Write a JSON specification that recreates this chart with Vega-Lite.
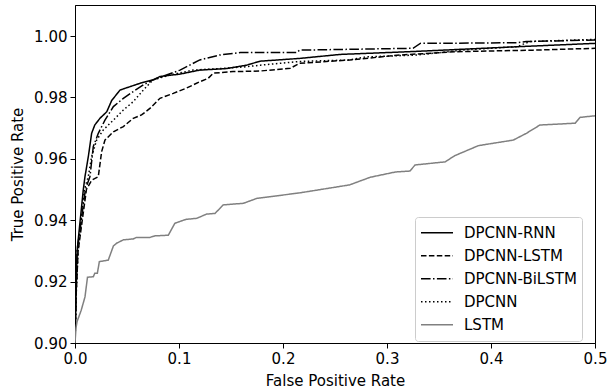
{
  "$schema": "https://vega.github.io/schema/vega-lite/v6.json",
  "width": 520,
  "height": 338,
  "autosize": {"type": "none"},
  "padding": {"left": 75, "top": 5, "right": 13, "bottom": 49},
  "background": "white",
  "config": {
    "font": "DejaVu Sans",
    "view": {"stroke": "#000000", "strokeWidth": 1},
    "legend": {
      "title": null,
      "orient": "none",
      "legendX": 340,
      "legendY": 212,
      "symbolType": "stroke",
      "symbolSize": 1024,
      "symbolStrokeWidth": 1.5,
      "labelFontSize": 15,
      "labelColor": "#000000",
      "labelOffset": 10,
      "rowPadding": 1,
      "clipHeight": 21.5,
      "padding": 5,
      "strokeColor": "#cccccc",
      "fillColor": "#ffffff",
      "cornerRadius": 3
    }
  },
  "datasets": {
    "roc": [
      {"model": "DPCNN-RNN", "fpr": 0, "tpr": 0.90},
      {"model": "DPCNN-RNN", "fpr": 0.001, "tpr": 0.915},
      {"model": "DPCNN-RNN", "fpr": 0.002, "tpr": 0.93},
      {"model": "DPCNN-RNN", "fpr": 0.005, "tpr": 0.94},
      {"model": "DPCNN-RNN", "fpr": 0.008, "tpr": 0.95},
      {"model": "DPCNN-RNN", "fpr": 0.0096, "tpr": 0.9542},
      {"model": "DPCNN-RNN", "fpr": 0.0128, "tpr": 0.9607},
      {"model": "DPCNN-RNN", "fpr": 0.016, "tpr": 0.9683},
      {"model": "DPCNN-RNN", "fpr": 0.019, "tpr": 0.971},
      {"model": "DPCNN-RNN", "fpr": 0.024, "tpr": 0.9732},
      {"model": "DPCNN-RNN", "fpr": 0.0305, "tpr": 0.9753},
      {"model": "DPCNN-RNN", "fpr": 0.0353, "tpr": 0.979},
      {"model": "DPCNN-RNN", "fpr": 0.0433, "tpr": 0.9824},
      {"model": "DPCNN-RNN", "fpr": 0.0529, "tpr": 0.9835},
      {"model": "DPCNN-RNN", "fpr": 0.0625, "tpr": 0.9846},
      {"model": "DPCNN-RNN", "fpr": 0.075, "tpr": 0.9857},
      {"model": "DPCNN-RNN", "fpr": 0.0817, "tpr": 0.9868},
      {"model": "DPCNN-RNN", "fpr": 0.101, "tpr": 0.9876},
      {"model": "DPCNN-RNN", "fpr": 0.12, "tpr": 0.9889},
      {"model": "DPCNN-RNN", "fpr": 0.146, "tpr": 0.9894},
      {"model": "DPCNN-RNN", "fpr": 0.165, "tpr": 0.9905},
      {"model": "DPCNN-RNN", "fpr": 0.178, "tpr": 0.9918},
      {"model": "DPCNN-RNN", "fpr": 0.216, "tpr": 0.9927},
      {"model": "DPCNN-RNN", "fpr": 0.255, "tpr": 0.994},
      {"model": "DPCNN-RNN", "fpr": 0.322, "tpr": 0.9949},
      {"model": "DPCNN-RNN", "fpr": 0.367, "tpr": 0.9956},
      {"model": "DPCNN-RNN", "fpr": 0.4247, "tpr": 0.9965},
      {"model": "DPCNN-RNN", "fpr": 0.5, "tpr": 0.9976},

      {"model": "DPCNN-LSTM", "fpr": 0, "tpr": 0.90},
      {"model": "DPCNN-LSTM", "fpr": 0.001, "tpr": 0.915},
      {"model": "DPCNN-LSTM", "fpr": 0.003, "tpr": 0.93},
      {"model": "DPCNN-LSTM", "fpr": 0.007, "tpr": 0.94},
      {"model": "DPCNN-LSTM", "fpr": 0.011, "tpr": 0.95},
      {"model": "DPCNN-LSTM", "fpr": 0.016, "tpr": 0.953},
      {"model": "DPCNN-LSTM", "fpr": 0.0224, "tpr": 0.9542},
      {"model": "DPCNN-LSTM", "fpr": 0.0256, "tpr": 0.9623},
      {"model": "DPCNN-LSTM", "fpr": 0.0288, "tpr": 0.9661},
      {"model": "DPCNN-LSTM", "fpr": 0.0369, "tpr": 0.9688},
      {"model": "DPCNN-LSTM", "fpr": 0.0465, "tpr": 0.9705},
      {"model": "DPCNN-LSTM", "fpr": 0.056, "tpr": 0.9732},
      {"model": "DPCNN-LSTM", "fpr": 0.064, "tpr": 0.9743},
      {"model": "DPCNN-LSTM", "fpr": 0.072, "tpr": 0.9764},
      {"model": "DPCNN-LSTM", "fpr": 0.0817, "tpr": 0.9797},
      {"model": "DPCNN-LSTM", "fpr": 0.0945, "tpr": 0.9813},
      {"model": "DPCNN-LSTM", "fpr": 0.107, "tpr": 0.983},
      {"model": "DPCNN-LSTM", "fpr": 0.12, "tpr": 0.9851},
      {"model": "DPCNN-LSTM", "fpr": 0.128, "tpr": 0.9862},
      {"model": "DPCNN-LSTM", "fpr": 0.133, "tpr": 0.9879},
      {"model": "DPCNN-LSTM", "fpr": 0.152, "tpr": 0.9884},
      {"model": "DPCNN-LSTM", "fpr": 0.178, "tpr": 0.9886},
      {"model": "DPCNN-LSTM", "fpr": 0.207, "tpr": 0.9895},
      {"model": "DPCNN-LSTM", "fpr": 0.216, "tpr": 0.9911},
      {"model": "DPCNN-LSTM", "fpr": 0.264, "tpr": 0.9922},
      {"model": "DPCNN-LSTM", "fpr": 0.3125, "tpr": 0.9938},
      {"model": "DPCNN-LSTM", "fpr": 0.367, "tpr": 0.9949},
      {"model": "DPCNN-LSTM", "fpr": 0.4407, "tpr": 0.9954},
      {"model": "DPCNN-LSTM", "fpr": 0.5, "tpr": 0.996},

      {"model": "DPCNN-BiLSTM", "fpr": 0, "tpr": 0.90},
      {"model": "DPCNN-BiLSTM", "fpr": 0.001, "tpr": 0.915},
      {"model": "DPCNN-BiLSTM", "fpr": 0.002, "tpr": 0.93},
      {"model": "DPCNN-BiLSTM", "fpr": 0.006, "tpr": 0.94},
      {"model": "DPCNN-BiLSTM", "fpr": 0.01, "tpr": 0.95},
      {"model": "DPCNN-BiLSTM", "fpr": 0.0144, "tpr": 0.9542},
      {"model": "DPCNN-BiLSTM", "fpr": 0.0176, "tpr": 0.964},
      {"model": "DPCNN-BiLSTM", "fpr": 0.0224, "tpr": 0.9683},
      {"model": "DPCNN-BiLSTM", "fpr": 0.0288, "tpr": 0.9726},
      {"model": "DPCNN-BiLSTM", "fpr": 0.0369, "tpr": 0.977},
      {"model": "DPCNN-BiLSTM", "fpr": 0.0465, "tpr": 0.9797},
      {"model": "DPCNN-BiLSTM", "fpr": 0.056, "tpr": 0.9819},
      {"model": "DPCNN-BiLSTM", "fpr": 0.0657, "tpr": 0.9841},
      {"model": "DPCNN-BiLSTM", "fpr": 0.075, "tpr": 0.9857},
      {"model": "DPCNN-BiLSTM", "fpr": 0.088, "tpr": 0.9873},
      {"model": "DPCNN-BiLSTM", "fpr": 0.101, "tpr": 0.9889},
      {"model": "DPCNN-BiLSTM", "fpr": 0.12, "tpr": 0.9922},
      {"model": "DPCNN-BiLSTM", "fpr": 0.139, "tpr": 0.9938},
      {"model": "DPCNN-BiLSTM", "fpr": 0.159, "tpr": 0.9946},
      {"model": "DPCNN-BiLSTM", "fpr": 0.213, "tpr": 0.9946},
      {"model": "DPCNN-BiLSTM", "fpr": 0.216, "tpr": 0.9954},
      {"model": "DPCNN-BiLSTM", "fpr": 0.325, "tpr": 0.996},
      {"model": "DPCNN-BiLSTM", "fpr": 0.332, "tpr": 0.9976},
      {"model": "DPCNN-BiLSTM", "fpr": 0.4247, "tpr": 0.9978},
      {"model": "DPCNN-BiLSTM", "fpr": 0.434, "tpr": 0.9982},
      {"model": "DPCNN-BiLSTM", "fpr": 0.5, "tpr": 0.9987},

      {"model": "DPCNN", "fpr": 0, "tpr": 0.90},
      {"model": "DPCNN", "fpr": 0.001, "tpr": 0.915},
      {"model": "DPCNN", "fpr": 0.003, "tpr": 0.93},
      {"model": "DPCNN", "fpr": 0.006, "tpr": 0.94},
      {"model": "DPCNN", "fpr": 0.009, "tpr": 0.95},
      {"model": "DPCNN", "fpr": 0.0128, "tpr": 0.9542},
      {"model": "DPCNN", "fpr": 0.016, "tpr": 0.9607},
      {"model": "DPCNN", "fpr": 0.0208, "tpr": 0.9661},
      {"model": "DPCNN", "fpr": 0.0272, "tpr": 0.9694},
      {"model": "DPCNN", "fpr": 0.0369, "tpr": 0.9726},
      {"model": "DPCNN", "fpr": 0.0465, "tpr": 0.9759},
      {"model": "DPCNN", "fpr": 0.056, "tpr": 0.9786},
      {"model": "DPCNN", "fpr": 0.0657, "tpr": 0.9824},
      {"model": "DPCNN", "fpr": 0.075, "tpr": 0.9857},
      {"model": "DPCNN", "fpr": 0.0913, "tpr": 0.9873},
      {"model": "DPCNN", "fpr": 0.1137, "tpr": 0.9889},
      {"model": "DPCNN", "fpr": 0.139, "tpr": 0.9894},
      {"model": "DPCNN", "fpr": 0.165, "tpr": 0.99},
      {"model": "DPCNN", "fpr": 0.178, "tpr": 0.9905},
      {"model": "DPCNN", "fpr": 0.216, "tpr": 0.9917},
      {"model": "DPCNN", "fpr": 0.264, "tpr": 0.9922},
      {"model": "DPCNN", "fpr": 0.28, "tpr": 0.9932},
      {"model": "DPCNN", "fpr": 0.3286, "tpr": 0.9938},
      {"model": "DPCNN", "fpr": 0.373, "tpr": 0.9954},
      {"model": "DPCNN", "fpr": 0.4247, "tpr": 0.9965},
      {"model": "DPCNN", "fpr": 0.4375, "tpr": 0.9982},
      {"model": "DPCNN", "fpr": 0.5, "tpr": 0.9989},

      {"model": "LSTM", "fpr": 0, "tpr": 0.90},
      {"model": "LSTM", "fpr": 0.001, "tpr": 0.905},
      {"model": "LSTM", "fpr": 0.002, "tpr": 0.907},
      {"model": "LSTM", "fpr": 0.006, "tpr": 0.9107},
      {"model": "LSTM", "fpr": 0.0096, "tpr": 0.915},
      {"model": "LSTM", "fpr": 0.012, "tpr": 0.9214},
      {"model": "LSTM", "fpr": 0.0176, "tpr": 0.9216},
      {"model": "LSTM", "fpr": 0.019, "tpr": 0.9227},
      {"model": "LSTM", "fpr": 0.0215, "tpr": 0.9227},
      {"model": "LSTM", "fpr": 0.0234, "tpr": 0.9265},
      {"model": "LSTM", "fpr": 0.032, "tpr": 0.927},
      {"model": "LSTM", "fpr": 0.0369, "tpr": 0.9316},
      {"model": "LSTM", "fpr": 0.04, "tpr": 0.9325},
      {"model": "LSTM", "fpr": 0.0465, "tpr": 0.9336},
      {"model": "LSTM", "fpr": 0.056, "tpr": 0.9339},
      {"model": "LSTM", "fpr": 0.059, "tpr": 0.9344},
      {"model": "LSTM", "fpr": 0.072, "tpr": 0.9344},
      {"model": "LSTM", "fpr": 0.077, "tpr": 0.9349},
      {"model": "LSTM", "fpr": 0.0897, "tpr": 0.9351},
      {"model": "LSTM", "fpr": 0.096, "tpr": 0.939},
      {"model": "LSTM", "fpr": 0.107, "tpr": 0.9403},
      {"model": "LSTM", "fpr": 0.117, "tpr": 0.9406},
      {"model": "LSTM", "fpr": 0.1266, "tpr": 0.942},
      {"model": "LSTM", "fpr": 0.1346, "tpr": 0.9422},
      {"model": "LSTM", "fpr": 0.1426, "tpr": 0.945},
      {"model": "LSTM", "fpr": 0.162, "tpr": 0.9455},
      {"model": "LSTM", "fpr": 0.1747, "tpr": 0.9471},
      {"model": "LSTM", "fpr": 0.216, "tpr": 0.9489},
      {"model": "LSTM", "fpr": 0.264, "tpr": 0.9515},
      {"model": "LSTM", "fpr": 0.284, "tpr": 0.954},
      {"model": "LSTM", "fpr": 0.308, "tpr": 0.9557},
      {"model": "LSTM", "fpr": 0.322, "tpr": 0.956},
      {"model": "LSTM", "fpr": 0.327, "tpr": 0.958},
      {"model": "LSTM", "fpr": 0.356, "tpr": 0.959},
      {"model": "LSTM", "fpr": 0.365, "tpr": 0.961},
      {"model": "LSTM", "fpr": 0.388, "tpr": 0.9643},
      {"model": "LSTM", "fpr": 0.4215, "tpr": 0.9661},
      {"model": "LSTM", "fpr": 0.434, "tpr": 0.9683},
      {"model": "LSTM", "fpr": 0.447, "tpr": 0.971},
      {"model": "LSTM", "fpr": 0.481, "tpr": 0.9716},
      {"model": "LSTM", "fpr": 0.4856, "tpr": 0.9735},
      {"model": "LSTM", "fpr": 0.5, "tpr": 0.974}
    ]
  },
  "data": {"name": "roc"},
  "mark": {"type": "line", "strokeWidth": 1.5, "clip": true},
  "encoding": {
    "x": {
      "field": "fpr",
      "type": "quantitative",
      "scale": {"domain": [0, 0.5], "nice": false, "zero": false},
      "axis": {
        "title": "False Positive Rate",
        "values": [0, 0.1, 0.2, 0.3, 0.4, 0.5],
        "format": ".1f",
        "grid": false,
        "domainColor": "#000000",
        "tickColor": "#000000",
        "tickSize": 5,
        "labelFontSize": 15,
        "labelColor": "#000000",
        "labelPadding": 3,
        "labelFlush": false,
        "titleFontSize": 15,
        "titleFontWeight": "normal",
        "titleColor": "#000000",
        "titlePadding": 7
      }
    },
    "y": {
      "field": "tpr",
      "type": "quantitative",
      "scale": {"domain": [0.9, 1.0101], "nice": false, "zero": false},
      "axis": {
        "title": "True Positive Rate",
        "values": [0.9, 0.92, 0.94, 0.96, 0.98, 1.0],
        "format": ".2f",
        "grid": false,
        "domainColor": "#000000",
        "tickColor": "#000000",
        "tickSize": 5,
        "labelFontSize": 15,
        "labelColor": "#000000",
        "labelPadding": 3,
        "labelFlush": false,
        "titleFontSize": 15,
        "titleFontWeight": "normal",
        "titleColor": "#000000",
        "titlePadding": 8
      }
    },
    "color": {
      "field": "model",
      "type": "nominal",
      "scale": {
        "domain": ["DPCNN-RNN", "DPCNN-LSTM", "DPCNN-BiLSTM", "DPCNN", "LSTM"],
        "range": ["#000000", "#000000", "#000000", "#000000", "#808080"]
      }
    },
    "strokeDash": {
      "field": "model",
      "type": "nominal",
      "scale": {
        "domain": ["DPCNN-RNN", "DPCNN-LSTM", "DPCNN-BiLSTM", "DPCNN", "LSTM"],
        "range": [[1, 0], [5.5, 2.4], [9.6, 2.4, 1.5, 2.4], [1.5, 2.5], [1, 0]]
      }
    }
  }
}
